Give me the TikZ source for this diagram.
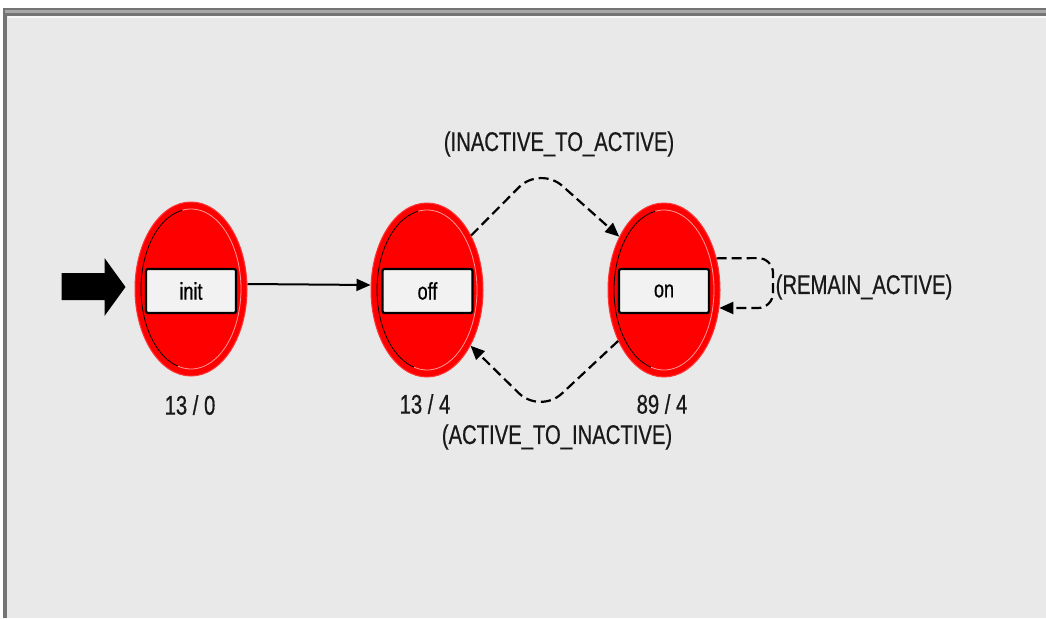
\documentclass[tikz,border=0pt]{standalone}
\usepackage{fontspec}
\setmainfont{Liberation Sans}
\newfontfamily\lblfont[FakeStretch=0.75,FakeBold=0.6]{Liberation Sans}
\usetikzlibrary{shapes.geometric,arrows.meta}
\definecolor{bgc}{HTML}{E9E9E9}
\definecolor{framedark}{HTML}{747474}
\definecolor{framelight}{HTML}{A8A8A8}
\definecolor{boxfill}{HTML}{F2F2F2}
\definecolor{statered}{HTML}{FF0000}
\newcommand\mystatering[1]{%
  \begin{scope}[shift={(#1.center)},x=1pt,y=1pt]
    \draw[black,line width=0.8pt] (100:50pt and 80pt) arc[start angle=100,end angle=255,x radius=50pt,y radius=80pt];
    \draw[white!60!statered,line width=0.8pt] (255:50pt and 80pt) arc[start angle=255,end angle=460,x radius=50pt,y radius=80pt];
  \end{scope}}
\begin{document}
\begin{tikzpicture}[x=1pt,y=-1pt,
  state/.style={ellipse,fill=statered,draw=statered!80!white,line width=1pt,
    minimum width=112pt,minimum height=174pt,inner sep=0pt},
  namebox/.style={draw=black,line width=2.2pt,fill=boxfill,rounded corners=2pt,
    minimum width=90pt,minimum height=44pt,inner sep=0pt,
    font=\fontsize{24}{26}\lblfont},
  lbl/.style={font=\fontsize{27}{30}\lblfont,text=black!90,inner sep=0pt},
  tip/.style={-{Triangle[length=14pt,width=12pt]}},
  trans/.style={line width=2.2pt,dash pattern=on 10pt off 5pt,tip},
  startarrow/.style={fill=black},
]
\useasboundingbox (0,0) rectangle (1046,618);
% frame
\fill[white] (0,0) rectangle (1046,618);
\fill[framedark] (3,8) rectangle (1046,618);
\fill[framelight] (5,10) rectangle (1046,13);
\fill[bgc] (7,16) rectangle (1046,618);
\fill[white!70!bgc] (8,16) rectangle (1046,18);
% states
\node[state] (init) at (191,289) {};
\node[state] (off) at (427,290) {};
\node[state] (on) at (664,290) {};
\mystatering{init}
\mystatering{off}
\mystatering{on}
\node[namebox] (initbox) at (191,291) {init};
\node[namebox] (offbox) at (427.5,291) {off};
\node[namebox] (onbox) at (664,291) {on};
% counts
\node[lbl] (cinit) at (190,405) {13 / 0};
\node[lbl] (coff) at (425,404) {13 / 4};
\node[lbl] (con) at (662,404) {89 / 4};
% start arrow
\coordinate (tipend) at ([xshift=-9pt,yshift=2pt]init.west);
\fill[startarrow] (tipend) -- ++(-21,-29) -- ++(0,15) -- ++(-43,0) -- ++(0,27) -- ++(43,0) -- ++(0,16) -- cycle;
% init -> off
\draw[line width=2pt,tip] ([yshift=5pt]init.east) -- ([yshift=5pt]off.west);
% off -> on
\coordinate (peak) at (540,166);
\draw[trans,rounded corners=30pt] (off.51) -- (peak) -- (on.130);
\node[lbl] (tia) at (559,144) {(INACTIVE\_TO\_ACTIVE)};
% on -> off
\coordinate (valley) at (540,414);
\draw[trans,rounded corners=30pt] (on.228) -- (valley) -- (off.308);
\node[lbl] (tai) at (557,437) {(ACTIVE\_TO\_INACTIVE)};
% self loop
\coordinate (la) at (773,258);
\coordinate (lb) at (773,308);
\draw[trans,rounded corners=15pt] (on.31) -- (la) -- (lb) -- (on.-18);
\node[lbl] (tra) at (864,287) {(REMAIN\_ACTIVE)};
\end{tikzpicture}
\end{document}
